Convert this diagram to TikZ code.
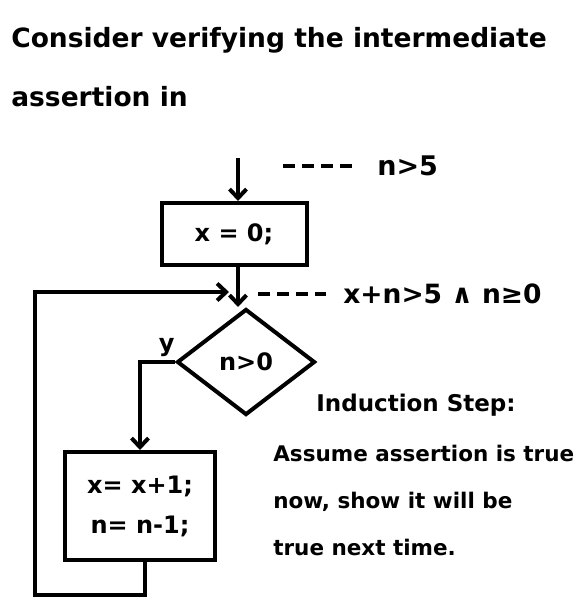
\documentclass[tikz,border=0pt]{standalone}
\usepackage{fontspec}
\setmainfont{DejaVu Sans}
\usetikzlibrary{shapes.geometric,arrows.meta}

\newcommand*{\pw}{580}
\newcommand*{\ph}{610}

\begin{document}
\begin{tikzpicture}
[
	x=1pt,y=-1pt,
	line width=4pt,
	every node/.style={font=\bfseries\fontsize{24}{28}\selectfont},
	big/.style={font=\bfseries\fontsize{26.5}{32}\selectfont},
	stmt/.style={draw,rectangle,inner sep=0pt},
	decide/.style={draw,diamond,inner sep=0pt,minimum width=138pt,minimum height=106pt},
	flow/.style={-{Straight Barb[length=9pt,width=17pt]}},
	leader/.style={dash pattern=on 12pt off 7pt,line cap=butt}
]
	\useasboundingbox (0,0) rectangle (\pw,\ph);

	% heading
	\node[big,anchor=base west] (head1) at (6,48) {Consider verifying the intermediate};
	\node[big,anchor=base west] (head2) at (6,106) {assertion in};

	% flow chart
	\coordinate (entry) at (238,158);
	\node[stmt,minimum width=145pt,minimum height=62pt] (init) at (234,234) {x = 0;};
	\coordinate (join) at (238,292);
	\node[decide] (test) at (246,362) {n>0};
	\node[stmt,minimum width=150pt,minimum height=108pt,align=center] (body) at (140,506)
		{x= x+1;\\[12pt] n= n-1;};
	\coordinate (back) at (35,595);

	\draw[flow] (entry) -- (entry |- init.north);
	\draw[flow] (init.south -| join) -- (join |- test.north);
	\draw[flow] (test.west) -| node[pos=0.12,above] {y} (body.north);
	\draw[flow,shorten >=9pt] ([xshift=5pt]body.south) |- (back) |- (join);

	% assertions
	\coordinate (dash1) at (283,166);
	\node[anchor=west,font=\bfseries\fontsize{27}{30}\selectfont] (pre) at (372,166) {n>5};
	\draw[leader,shorten >=16pt] (dash1) -- (pre.west);
	\coordinate (dash2) at (258,294);
	\node[anchor=west,font=\bfseries\fontsize{26.5}{30}\selectfont] (inv) at (338,294) {x+n>5 ∧ n≥0};
	\draw[leader,shorten >=12pt] (dash2) -- (inv.west);

	% induction step
	\node[font=\bfseries\fontsize{23}{28}\selectfont] (step) at (416,405) {Induction Step:};
	\node[anchor=north west,align=left,font=\bfseries\fontsize{21.5}{47}\selectfont] (note) at (268,440)
		{Assume assertion is true\\now, show it will be\\true next time.};

\end{tikzpicture}
\end{document}
